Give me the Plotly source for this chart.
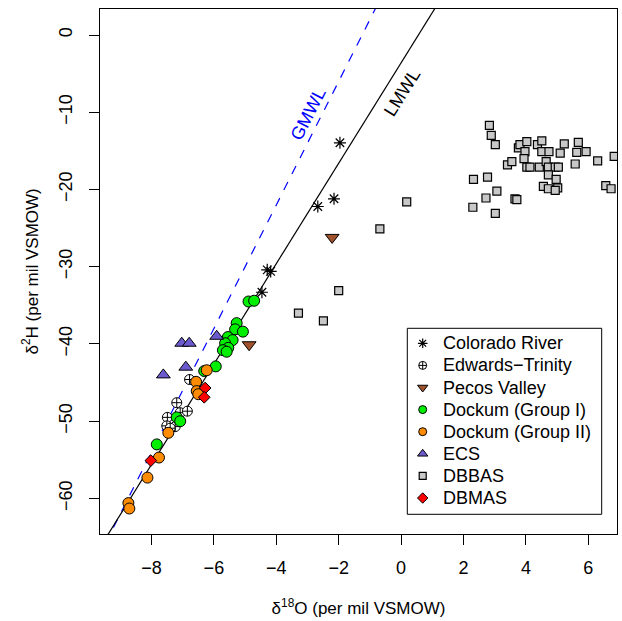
import plotly.graph_objects as go

# ---------------- data ----------------
colorado_x = [-1.96, -2.15, -2.67, -4.29, -4.18, -4.46]
colorado_y = [-13.95, -21.2, -22.2, -30.4, -30.6, -33.3]

edwards_x = [-6.78, -7.19, -7.08, -6.85, -7.49, -7.51, -7.24, -7.40]
edwards_y = [-44.6, -47.6, -48.9, -48.7, -49.5, -50.6, -50.7, -50.9]

pecos_x = [-2.21, -4.87]
pecos_y = [-26.2, -40.1]

dock1_x = [-4.89, -4.71, -5.27, -5.32, -5.07, -5.55, -5.40, -5.64, -5.54, -5.71,
           -5.59, -5.94, -6.31, -7.19, -7.08, -7.83]
dock1_y = [-34.5, -34.4, -37.3, -38.1, -38.4, -39.1, -39.5, -39.9, -40.5, -40.8,
           -41.0, -42.9, -43.5, -49.5, -50.0, -53.0]

dock2_x = [-6.23, -6.57, -6.55, -6.50, -7.46, -7.76, -8.13, -8.74, -8.71]
dock2_y = [-43.4, -44.9, -46.1, -46.5, -51.5, -54.7, -57.3, -60.6, -61.3]

ecs_x = [-7.03, -6.79, -5.91, -6.90, -7.62]
ecs_y = [-39.9, -39.9, -39.0, -43.0, -44.0]

dbbas_x = [0.18, -0.68, -2.00, -3.29, -2.49, 2.83, 2.89, 3.02, 2.32, 2.77,
           3.07, 2.72, 2.30, 3.02, 3.65, 3.71, 3.41, 3.55, 3.76, 3.81,
           4.03, 4.37, 4.51, 3.97, 3.94, 4.03, 4.13, 4.43, 4.51, 4.74,
           4.65, 4.72, 4.94, 5.04, 4.72, 4.97, 4.56, 4.72, 5.02, 4.94,
           5.10, 5.23, 5.58, 5.68, 5.63, 5.93, 6.30, 6.83, 6.56, 6.73]
dbbas_y = [-21.6, -25.1, -33.1, -36.0, -37.0, -11.7, -13.0, -14.2, -18.7, -18.4,
           -20.2, -21.1, -22.3, -23.1, -21.2, -21.3, -16.8, -16.4, -14.6, -14.2,
           -13.8, -14.2, -13.7, -15.1, -16.0, -17.1, -17.1, -17.1, -15.1, -15.1,
           -16.4, -17.1, -17.1, -17.1, -18.1, -18.7, -19.6, -19.9, -19.8, -20.1,
           -15.3, -14.1, -16.7, -13.9, -15.2, -15.1, -16.3, -15.7, -19.5, -19.9]

dbmas_x = [-6.28, -6.31, -8.02]
dbmas_y = [-45.7, -46.9, -55.1]

# meteoric water lines: slope, intercept
gmwl = (8.0, 10.0)
lmwl = (6.5, -3.6)
line_x = [-10.0, 8.0]

x_ticks = [-8, -6, -4, -2, 0, 2, 4, 6]
y_ticks = [-60, -50, -40, -30, -20, -10, 0]

series_names = ["Colorado River", "Edwards\u2212Trinity", "Pecos Valley", "Dockum (Group I)",
                "Dockum (Group II)", "ECS", "DBBAS", "DBMAS"]

FONT = "Liberation Sans, Arial, Helvetica, sans-serif"

styles = [
    dict(symbol="asterisk-open", size=10, color="black", line=dict(color="black", width=1.2)),
    dict(symbol="circle-cross", size=10, color="white", line=dict(color="black", width=1)),
    dict(symbol="triangle-down", size=12, color="#A0522D", line=dict(color="black", width=1)),
    dict(symbol="circle", size=11, color="#00EE00", line=dict(color="black", width=1)),
    dict(symbol="circle", size=11, color="#FF8C00", line=dict(color="black", width=1)),
    dict(symbol="triangle-up", size=12, color="#6A5ACD", line=dict(color="black", width=1)),
    dict(symbol="square", size=8, color="#C8C8C8", line=dict(color="black", width=1.2)),
    dict(symbol="diamond", size=9, color="#FF0000", line=dict(color="black", width=1)),
]
legend_sizes = [8, 8, 9, 8, 8, 9, 7, 8]

series = [(colorado_x, colorado_y), (edwards_x, edwards_y), (pecos_x, pecos_y),
          (dock1_x, dock1_y), (dock2_x, dock2_y), (ecs_x, ecs_y),
          (dbbas_x, dbbas_y), (dbmas_x, dbmas_y)]

fig = go.Figure()

fig.add_trace(go.Scatter(x=line_x, y=[gmwl[0] * v + gmwl[1] for v in line_x], mode="lines",
                         line=dict(color="#0000FF", width=1.2, dash="dash"), showlegend=False,
                         hoverinfo="skip"))
fig.add_trace(go.Scatter(x=line_x, y=[lmwl[0] * v + lmwl[1] for v in line_x], mode="lines",
                         line=dict(color="black", width=1.2), showlegend=False, hoverinfo="skip"))

for name, (sx, sy), st in zip(series_names, series, styles):
    fig.add_trace(go.Scatter(x=sx, y=sy, mode="markers", name=name, marker=st,
                             showlegend=False))

# ---------------- legend box (drawn in paper space, R-style) ----------------
# plot area in pixels: x 100..617, y 9..534
def px_to_paper_x(px):
    return (px - 100) / 517.0

def py_to_paper_y(py):
    return (534 - py) / 525.0

row0, row_gap = 343.3, 22.1
sym_px, txt_px = 422.7, 441.0

fig.add_shape(type="rect", xref="paper", yref="paper",
              x0=px_to_paper_x(407.3), x1=px_to_paper_x(601.7),
              y0=py_to_paper_y(514.3), y1=py_to_paper_y(328.3),
              line=dict(color="black", width=1), fillcolor="white", layer="below")

for i, (name, st, ls) in enumerate(zip(series_names, styles, legend_sizes)):
    yy = py_to_paper_y(row0 + i * row_gap)
    mk = dict(st)
    mk["size"] = ls
    fig.add_trace(go.Scatter(x=[px_to_paper_x(sym_px)], y=[yy], mode="markers", marker=mk,
                             xaxis="x2", yaxis="y2", showlegend=False, hoverinfo="skip",
                             cliponaxis=False))
    fig.add_annotation(xref="paper", yref="paper", x=px_to_paper_x(txt_px), y=yy,
                       text=name, showarrow=False, xanchor="left", yanchor="middle",
                       font=dict(size=18, family=FONT, color="black"))

fig.add_annotation(x=-2.98, y=-10.2, text="GMWL", showarrow=False, textangle=-63,
                   font=dict(color="#0000FF", size=18, family=FONT))
fig.add_annotation(x=0.02, y=-7.45, text="LMWL", showarrow=False, textangle=-58,
                   font=dict(color="black", size=18, family=FONT))

# y-axis title placed R-style, centred on the plot region
fig.add_annotation(xref="paper", yref="paper", x=px_to_paper_x(30), y=0.5,
                   text="\u03b4<sup>2</sup>H (per mil VSMOW)", showarrow=False, textangle=-90,
                   xanchor="center", yanchor="middle",
                   font=dict(size=17, family=FONT, color="black"))

fig.update_layout(
    width=622, height=621,
    margin=dict(l=100, r=5, t=9, b=87),
    paper_bgcolor="white", plot_bgcolor="white",
    font=dict(family=FONT, size=18, color="black"),
    showlegend=False,
    xaxis=dict(range=[-9.65, 6.92], tickvals=x_ticks, ticks="outside", ticklen=10,
               tickcolor="black", tickwidth=1, showline=True, linecolor="black",
               linewidth=1, mirror=True, showgrid=False, zeroline=False,
               ticklabelstandoff=7,
               title=dict(text="\u03b4<sup>18</sup>O (per mil VSMOW)", standoff=25,
                          font=dict(size=17))),
    yaxis=dict(range=[-64.6, 3.37], tickvals=y_ticks, ticks="outside", ticklen=10,
               tickcolor="black", tickwidth=1, showline=True, linecolor="black",
               linewidth=1, mirror=True, showgrid=False, zeroline=False,
               tickangle=-90, ticklabelstandoff=10),
    xaxis2=dict(range=[0, 1], domain=[0, 1], overlaying="x", visible=False, fixedrange=True),
    yaxis2=dict(range=[0, 1], domain=[0, 1], overlaying="y", visible=False, fixedrange=True),
)

fig.write_html("out.html")
